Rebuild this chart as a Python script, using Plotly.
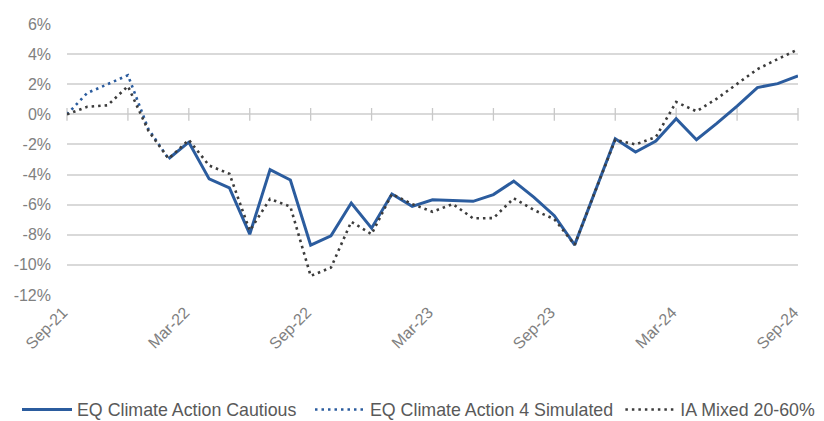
import plotly.graph_objects as go

months = ["Sep-21", "Oct-21", "Nov-21", "Dec-21", "Jan-22", "Feb-22", "Mar-22", "Apr-22",
          "May-22", "Jun-22", "Jul-22", "Aug-22", "Sep-22", "Oct-22", "Nov-22", "Dec-22",
          "Jan-23", "Feb-23", "Mar-23", "Apr-23", "May-23", "Jun-23", "Jul-23", "Aug-23",
          "Sep-23", "Oct-23", "Nov-23", "Dec-23", "Jan-24", "Feb-24", "Mar-24", "Apr-24",
          "May-24", "Jun-24", "Jul-24", "Aug-24", "Sep-24"]

# EQ Climate Action Cautious (from Feb-22)
cautious = [None, None, None, None, None,
            -2.95, -1.85, -4.29, -4.89, -7.96, -3.67, -4.36, -8.69, -8.07, -5.89, -7.56,
            -5.29, -6.11, -5.67, -5.73, -5.78, -5.33, -4.44, -5.51, -6.73, -8.67, -5.15,
            -1.62, -2.51, -1.78, -0.29, -1.69, -0.60, 0.55, 1.78, 2.04, 2.55]

# EQ Climate Action 4 Simulated (Sep-21 to Feb-22)
simulated = [0.0, 1.42, 2.0, 2.6, -0.95, -2.95] + [None] * 31

# IA Mixed 20-60%
ia_mixed = [0.0, 0.5, 0.6, 1.87, -1.07, -2.95, -1.7, -3.4, -3.95, -7.73, -5.62, -6.13,
            -10.73, -10.18, -7.13, -7.96, -5.29, -5.96, -6.47, -5.96, -6.91, -6.89, -5.58,
            -6.36, -6.96, -8.67, -5.15, -1.69, -2.0, -1.51, 0.82, 0.2, 1.04, 2.04, 3.0,
            3.67, 4.31]

y_ticks = [6, 4, 2, 0, -2, -4, -6, -8, -10, -12]
y_ticktext = [f"{v}%" for v in y_ticks]
x_label_months = months[::6]
quarter_months = months[::3]

BLUE = "#2B5C9E"
DARK = "#3C3C3C"
GRAY_TXT = "#808080"
LEG_TXT = "#595959"
GRID = "#D9D9D9"
FONT = "Liberation Sans"

fig = go.Figure()

# quarterly tick marks on the 0% axis line (drawn first, below the lines)
fig.add_trace(go.Scatter(
    x=quarter_months, y=[0] * len(quarter_months), mode="markers",
    marker=dict(symbol="line-ns", size=9, line=dict(width=1.3, color="#C8C8C8")),
    showlegend=False, hoverinfo="skip", cliponaxis=False))

fig.add_trace(go.Scatter(
    x=months, y=cautious, mode="lines", name="EQ Climate Action Cautious",
    line=dict(color=BLUE, width=3), legend="legend"))

fig.add_trace(go.Scatter(
    x=months, y=simulated, mode="lines", name="EQ Climate Action 4 Simulated",
    line=dict(color=BLUE, width=2.6, dash="2.5px,4px"), legend="legend2"))

fig.add_trace(go.Scatter(
    x=months, y=ia_mixed, mode="lines", name="IA Mixed 20-60%",
    line=dict(color=DARK, width=2.6, dash="2.5px,4px"), legend="legend3"))

leg_common = dict(orientation="h", xanchor="left", y=-0.424, yanchor="middle",
                  font=dict(family=FONT, size=17.8, color=LEG_TXT),
                  itemwidth=50, itemclick=False, bgcolor="rgba(0,0,0,0)")

# the page body adds an 8px offset, so the figure is 8px smaller and shifted
fig.update_layout(
    width=816, height=413,
    margin=dict(l=59, r=26, t=16, b=126, autoexpand=False),
    paper_bgcolor="white", plot_bgcolor="white",
    font=dict(family=FONT, color=GRAY_TXT, size=16),
    showlegend=True,
    legend=dict(x=-0.0684, **leg_common),
    legend2=dict(x=0.3324, **leg_common),
    legend3=dict(x=0.757, **leg_common),
)

fig.update_xaxes(
    type="category", categoryorder="array", categoryarray=months,
    range=[0, len(months) - 1],
    tickmode="array", tickvals=x_label_months, ticktext=x_label_months,
    tickangle=-45, showgrid=False, showline=False, ticks="", zeroline=False,
    tickfont=dict(family=FONT, size=16, color=GRAY_TXT),
    ticklabelstandoff=4, ticklabelshift=-4, automargin=False)

fig.update_yaxes(
    range=[-12, 6], tickmode="array", tickvals=y_ticks, ticktext=y_ticktext,
    showgrid=True, gridcolor=GRID, gridwidth=1.5,
    zeroline=True, zerolinecolor=GRID, zerolinewidth=1.5,
    showline=False, ticks="",
    tickfont=dict(family=FONT, size=16, color=GRAY_TXT),
    ticklabelstandoff=15, automargin=False)

fig.write_html("out.html")
